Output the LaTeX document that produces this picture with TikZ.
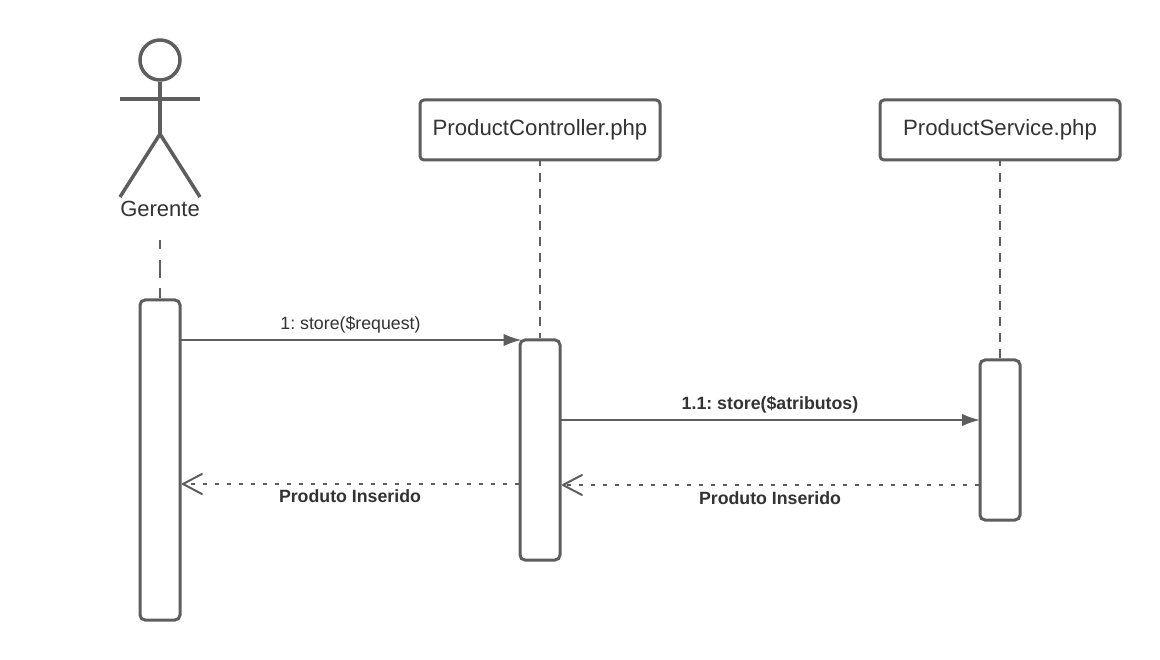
\documentclass[tikz,border=0pt]{standalone}
\usepackage{fontspec}
\setmainfont{Liberation Sans}
\usetikzlibrary{arrows.meta}
\frenchspacing
\definecolor{ln}{HTML}{5E5E5E}
\definecolor{tx}{HTML}{333333}
\tikzset{
 x=1pt,y=-1pt,
 obj/.style={draw=ln,line width=3pt,rounded corners=4pt,fill=white,minimum width=240pt,minimum height=60pt,inner sep=0pt,text=tx,font=\fontsize{22.2}{26}\selectfont},
 act/.style={draw=ln,line width=3pt,rounded corners=5pt,fill=white,minimum width=40pt,inner sep=0pt},
 life/.style={draw=ln,line width=2pt,dash pattern=on 8.5pt off 7.5pt,dash phase=4.2pt},
 alife/.style={draw=ln,line width=2pt,dash pattern=on 9pt off 11pt on 18pt off 10pt on 12pt off 10pt},
 msg/.style={draw=ln,line width=2pt,-{Latex[length=18pt,width=12.5pt,ln]}},
 ret/.style={draw=ln,line width=2pt,dash pattern=on 4pt off 8pt,-{Straight Barb[length=19pt,width=20pt,ln,line width=2pt,round]}},
 lab/.style={text=tx,inner sep=0pt,font=\fontsize{17.75}{20}\selectfont},
 blab/.style={lab,font=\fontsize{17.75}{20}\selectfont\bfseries},
 limb/.style={draw=ln,line width=3.5pt},
}
\begin{document}
\begin{tikzpicture}
\useasboundingbox (0,0) rectangle (1160,660);
\fill[white] (0,0) rectangle (1160,660);
% actor
\coordinate (hip) at (160,134);
\coordinate (armL) at (120,99);
\coordinate (armR) at (200,99);
\coordinate (legL) at (120,197);
\coordinate (legR) at (200,197);
\coordinate (ll0) at (160,240);
\node[draw=ln,line width=3.5pt,circle,minimum size=40pt,inner sep=0pt] (head) at (160,60) {};
\draw[limb] (head.south) -- (hip);
\draw[limb,line width=4pt] (armL) -- (armR);
\draw[limb,line join=miter] (legL) -- (hip) -- (legR);
\node[text=tx,inner sep=0pt,font=\fontsize{22}{26}\selectfont] (ger) at (160,208.5) {Gerente};
% activations and objects
\node[act,minimum height=320pt] (a1) at (160,460) {};
\node[act,minimum height=220pt] (a2) at (540,450) {};
\node[act,minimum height=160pt] (a3) at (1000,440) {};
\node[obj] (c) at (540,130) {ProductController.php};
\node[obj] (s) at (1000,130) {ProductService.php};
% lifelines
\draw[alife] (ll0) -- (a1.north);
\draw[life] (c.south) -- (a2.north);
\draw[life] (s.south) -- (a3.north);
% messages
\coordinate (m1s) at (181,340);
\coordinate (m1e) at (521.5,340);
\coordinate (m2s) at (561,420);
\coordinate (m2e) at (980,420);
\coordinate (r1s) at (519,484);
\coordinate (r1e) at (182,484);
\coordinate (r2s) at (979,485);
\coordinate (r2e) at (562,485);
\draw[msg] (m1s) -- (m1e);
\draw[msg] (m2s) -- (m2e);
\draw[ret] (r1s) -- (r1e);
\draw[ret] (r2s) -- (r2e);
\node[lab] (l1) at (350.5,324.5) {1: store(\$request)};
\node[blab] (l2) at (770,404.5) {1.1: store(\$atributos)};
\node[blab] (l3) at (350,496.5) {Produto Inserido};
\node[blab] (l4) at (770,498) {Produto Inserido};
\end{tikzpicture}
\end{document}
